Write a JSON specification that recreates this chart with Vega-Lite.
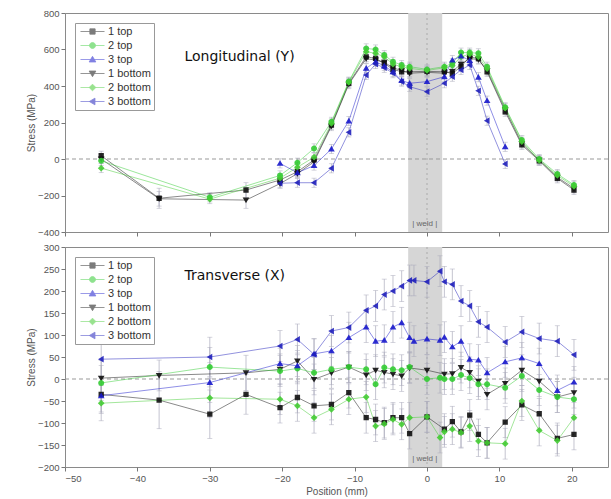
{
"$schema": "https://vega.github.io/schema/vega-lite/v6.json",
"padding": {"left": 25, "top": 7, "right": 1, "bottom": 0},
"config": {
  "font": "Liberation Sans",
  "view": {"stroke": "#8a8a8a", "strokeWidth": 1},
  "axis": {"labelColor": "#555", "labelFontSize": 9.5, "titleColor": "#555", "titleFontSize": 10, "titleFontWeight": "normal", "tickColor": "#777", "domain": false, "grid": false, "tickSize": 4, "labelPadding": 2, "labelOverlap": false, "labelBound": false},
  "axisY": {"minExtent": 26, "maxExtent": 26, "titlePadding": 3},
  "legend": {"labelFontSize": 11, "labelColor": "#333", "symbolSize": 50, "rowPadding": 2, "padding": 3, "symbolOffset": 9, "labelOffset": 10, "strokeColor": "#999", "fillColor": "white", "orient": "top-left", "offset": 10, "symbolStrokeWidth": 0.8}
},
"datasets": {
"top": [
{"s":"1 top","x":-45,"v":18,"e":25},{"s":"1 top","x":-37,"v":-215,"e":55},{"s":"1 top","x":-25,"v":-170,"e":40},{"s":"1 top","x":-20.3,"v":-115,"e":25},{"s":"1 top","x":-17.9,"v":-70,"e":25},{"s":"1 top","x":-15.6,"v":-5,"e":25},{"s":"1 top","x":-13.2,"v":186,"e":25},{"s":"1 top","x":-10.8,"v":415,"e":25},{"s":"1 top","x":-8.4,"v":560,"e":25},{"s":"1 top","x":-7.1,"v":551,"e":25},{"s":"1 top","x":-5.9,"v":524,"e":25},{"s":"1 top","x":-4.7,"v":491,"e":25},{"s":"1 top","x":-3.5,"v":478,"e":25},{"s":"1 top","x":-2.4,"v":478,"e":25},{"s":"1 top","x":0,"v":480,"e":25},{"s":"1 top","x":2.4,"v":478,"e":25},{"s":"1 top","x":3.5,"v":469,"e":25},{"s":"1 top","x":4.7,"v":506,"e":25},{"s":"1 top","x":5.9,"v":560,"e":25},{"s":"1 top","x":7.1,"v":550,"e":25},{"s":"1 top","x":8.3,"v":478,"e":25},{"s":"1 top","x":10.8,"v":259,"e":25},{"s":"1 top","x":13.1,"v":77,"e":25},{"s":"1 top","x":15.5,"v":-10,"e":25},{"s":"1 top","x":18,"v":-106,"e":25},{"s":"1 top","x":20.3,"v":-170,"e":25},
{"s":"1 bottom","x":-45,"v":0,"e":25},{"s":"1 bottom","x":-37,"v":-218,"e":40},{"s":"1 bottom","x":-25,"v":-225,"e":45},{"s":"1 bottom","x":-20.3,"v":-135,"e":25},{"s":"1 bottom","x":-17.9,"v":-80,"e":25},{"s":"1 bottom","x":-15.6,"v":-15,"e":25},{"s":"1 bottom","x":-13.2,"v":180,"e":25},{"s":"1 bottom","x":-10.8,"v":410,"e":25},{"s":"1 bottom","x":-8.4,"v":550,"e":25},{"s":"1 bottom","x":-7.1,"v":542,"e":25},{"s":"1 bottom","x":-5.9,"v":530,"e":25},{"s":"1 bottom","x":-4.7,"v":500,"e":25},{"s":"1 bottom","x":-3.5,"v":485,"e":25},{"s":"1 bottom","x":-2.4,"v":470,"e":25},{"s":"1 bottom","x":0,"v":475,"e":25},{"s":"1 bottom","x":2.4,"v":470,"e":25},{"s":"1 bottom","x":3.5,"v":480,"e":25},{"s":"1 bottom","x":4.7,"v":520,"e":25},{"s":"1 bottom","x":5.9,"v":550,"e":25},{"s":"1 bottom","x":7.1,"v":545,"e":25},{"s":"1 bottom","x":8.3,"v":485,"e":25},{"s":"1 bottom","x":10.8,"v":270,"e":25},{"s":"1 bottom","x":13.1,"v":85,"e":25},{"s":"1 bottom","x":15.5,"v":-5,"e":25},{"s":"1 bottom","x":18,"v":-100,"e":25},{"s":"1 bottom","x":20.3,"v":-161,"e":25},
{"s":"2 top","x":-45,"v":-10,"e":25},{"s":"2 top","x":-30,"v":-210,"e":25},{"s":"2 top","x":-20.3,"v":-90,"e":25},{"s":"2 top","x":-17.9,"v":-20,"e":25},{"s":"2 top","x":-15.6,"v":58,"e":25},{"s":"2 top","x":-13.2,"v":204,"e":25},{"s":"2 top","x":-10.8,"v":424,"e":25},{"s":"2 top","x":-8.4,"v":606,"e":25},{"s":"2 top","x":-7.1,"v":600,"e":25},{"s":"2 top","x":-5.9,"v":570,"e":25},{"s":"2 top","x":-4.7,"v":533,"e":25},{"s":"2 top","x":-3.5,"v":515,"e":25},{"s":"2 top","x":-2.4,"v":506,"e":25},{"s":"2 top","x":0,"v":491,"e":25},{"s":"2 top","x":2.4,"v":506,"e":25},{"s":"2 top","x":3.5,"v":524,"e":25},{"s":"2 top","x":4.7,"v":583,"e":25},{"s":"2 top","x":5.9,"v":583,"e":25},{"s":"2 top","x":7.1,"v":579,"e":25},{"s":"2 top","x":8.3,"v":506,"e":25},{"s":"2 top","x":10.8,"v":283,"e":25},{"s":"2 top","x":13.1,"v":104,"e":25},{"s":"2 top","x":15.5,"v":0,"e":25},{"s":"2 top","x":18,"v":-82,"e":25},{"s":"2 top","x":20.3,"v":-142,"e":25},
{"s":"2 bottom","x":-45,"v":-50,"e":25},{"s":"2 bottom","x":-30,"v":-220,"e":25},{"s":"2 bottom","x":-20.3,"v":-105,"e":25},{"s":"2 bottom","x":-17.9,"v":-45,"e":25},{"s":"2 bottom","x":-15.6,"v":10,"e":25},{"s":"2 bottom","x":-13.2,"v":195,"e":25},{"s":"2 bottom","x":-10.8,"v":420,"e":25},{"s":"2 bottom","x":-8.4,"v":588,"e":25},{"s":"2 bottom","x":-7.1,"v":579,"e":25},{"s":"2 bottom","x":-5.9,"v":560,"e":25},{"s":"2 bottom","x":-4.7,"v":520,"e":25},{"s":"2 bottom","x":-3.5,"v":505,"e":25},{"s":"2 bottom","x":-2.4,"v":497,"e":25},{"s":"2 bottom","x":0,"v":485,"e":25},{"s":"2 bottom","x":2.4,"v":500,"e":25},{"s":"2 bottom","x":3.5,"v":511,"e":25},{"s":"2 bottom","x":4.7,"v":560,"e":25},{"s":"2 bottom","x":5.9,"v":575,"e":25},{"s":"2 bottom","x":7.1,"v":560,"e":25},{"s":"2 bottom","x":8.3,"v":495,"e":25},{"s":"2 bottom","x":10.8,"v":278,"e":25},{"s":"2 bottom","x":13.1,"v":95,"e":25},{"s":"2 bottom","x":15.5,"v":-8,"e":25},{"s":"2 bottom","x":18,"v":-90,"e":25},{"s":"2 bottom","x":20.3,"v":-150,"e":25},
{"s":"3 top","x":-20.3,"v":-24,"e":25},{"s":"3 top","x":-17.9,"v":-75,"e":25},{"s":"3 top","x":-15.6,"v":-36,"e":25},{"s":"3 top","x":-13.2,"v":55,"e":25},{"s":"3 top","x":-10.8,"v":208,"e":25},{"s":"3 top","x":-8.4,"v":497,"e":25},{"s":"3 top","x":-7.1,"v":533,"e":25},{"s":"3 top","x":-5.9,"v":510,"e":25},{"s":"3 top","x":-4.7,"v":478,"e":25},{"s":"3 top","x":-3.5,"v":430,"e":25},{"s":"3 top","x":-2.4,"v":415,"e":25},{"s":"3 top","x":0,"v":424,"e":25},{"s":"3 top","x":2.4,"v":451,"e":25},{"s":"3 top","x":3.5,"v":542,"e":25},{"s":"3 top","x":4.7,"v":564,"e":25},{"s":"3 top","x":5.9,"v":540,"e":25},{"s":"3 top","x":7.1,"v":448,"e":25},{"s":"3 top","x":8.3,"v":320,"e":25},{"s":"3 top","x":10.8,"v":67,"e":25},
{"s":"3 bottom","x":-20.3,"v":-133,"e":25},{"s":"3 bottom","x":-17.9,"v":-130,"e":25},{"s":"3 bottom","x":-15.6,"v":-130,"e":25},{"s":"3 bottom","x":-13.2,"v":-51,"e":25},{"s":"3 bottom","x":-10.8,"v":146,"e":25},{"s":"3 bottom","x":-8.4,"v":460,"e":25},{"s":"3 bottom","x":-7.1,"v":520,"e":25},{"s":"3 bottom","x":-5.9,"v":500,"e":25},{"s":"3 bottom","x":-4.7,"v":470,"e":25},{"s":"3 bottom","x":-3.5,"v":424,"e":25},{"s":"3 bottom","x":-2.4,"v":396,"e":25},{"s":"3 bottom","x":0,"v":369,"e":25},{"s":"3 bottom","x":2.4,"v":415,"e":25},{"s":"3 bottom","x":3.5,"v":451,"e":25},{"s":"3 bottom","x":4.7,"v":488,"e":25},{"s":"3 bottom","x":5.9,"v":515,"e":25},{"s":"3 bottom","x":7.1,"v":374,"e":25},{"s":"3 bottom","x":8.3,"v":210,"e":25},{"s":"3 bottom","x":10.8,"v":-27,"e":25}
],
"bot": [
{"s":"1 top","x":-45,"v":-35,"e":40},{"s":"1 top","x":-37,"v":-48,"e":65},{"s":"1 top","x":-30,"v":-80,"e":55},{"s":"1 top","x":-25,"v":-35,"e":45},{"s":"1 top","x":-20.3,"v":-65,"e":35},{"s":"1 top","x":-17.9,"v":-42,"e":35},{"s":"1 top","x":-15.6,"v":-61,"e":35},{"s":"1 top","x":-13.2,"v":-58,"e":35},{"s":"1 top","x":-10.8,"v":-31,"e":35},{"s":"1 top","x":-8.4,"v":-88,"e":35},{"s":"1 top","x":-7.1,"v":-92,"e":35},{"s":"1 top","x":-5.9,"v":-99,"e":35},{"s":"1 top","x":-4.7,"v":-88,"e":35},{"s":"1 top","x":-3.5,"v":-88,"e":35},{"s":"1 top","x":-2.4,"v":-124,"e":35},{"s":"1 top","x":0,"v":-86,"e":35},{"s":"1 top","x":2.4,"v":-114,"e":35},{"s":"1 top","x":3.5,"v":-97,"e":35},{"s":"1 top","x":4.7,"v":-120,"e":35},{"s":"1 top","x":5.9,"v":-82,"e":35},{"s":"1 top","x":7.1,"v":-126,"e":35},{"s":"1 top","x":8.3,"v":-145,"e":35},{"s":"1 top","x":10.8,"v":-98,"e":35},{"s":"1 top","x":13.1,"v":-59,"e":35},{"s":"1 top","x":15.5,"v":-79,"e":35},{"s":"1 top","x":18,"v":-135,"e":35},{"s":"1 top","x":20.3,"v":-126,"e":35},
{"s":"1 bottom","x":-45,"v":2,"e":40},{"s":"1 bottom","x":-37,"v":8,"e":35},{"s":"1 bottom","x":-25,"v":14,"e":40},{"s":"1 bottom","x":-20.3,"v":22,"e":35},{"s":"1 bottom","x":-17.9,"v":41,"e":35},{"s":"1 bottom","x":-15.6,"v":-1,"e":35},{"s":"1 bottom","x":-13.2,"v":14,"e":35},{"s":"1 bottom","x":-10.8,"v":27,"e":35},{"s":"1 bottom","x":-8.4,"v":9,"e":35},{"s":"1 bottom","x":-7.1,"v":20,"e":35},{"s":"1 bottom","x":-5.9,"v":15,"e":35},{"s":"1 bottom","x":-4.7,"v":11,"e":35},{"s":"1 bottom","x":-3.5,"v":7,"e":35},{"s":"1 bottom","x":-2.4,"v":25,"e":35},{"s":"1 bottom","x":0,"v":20,"e":35},{"s":"1 bottom","x":2.4,"v":11,"e":35},{"s":"1 bottom","x":3.5,"v":12,"e":35},{"s":"1 bottom","x":4.7,"v":26,"e":35},{"s":"1 bottom","x":5.9,"v":15,"e":35},{"s":"1 bottom","x":7.1,"v":-5,"e":35},{"s":"1 bottom","x":8.3,"v":-35,"e":35},{"s":"1 bottom","x":10.8,"v":-10,"e":35},{"s":"1 bottom","x":13.1,"v":20,"e":35},{"s":"1 bottom","x":15.5,"v":-5,"e":35},{"s":"1 bottom","x":18,"v":-41,"e":35},{"s":"1 bottom","x":20.3,"v":-31,"e":35},
{"s":"2 top","x":-45,"v":-9,"e":40},{"s":"2 top","x":-30,"v":27,"e":45},{"s":"2 top","x":-20.3,"v":18,"e":35},{"s":"2 top","x":-17.9,"v":24,"e":35},{"s":"2 top","x":-15.6,"v":14,"e":35},{"s":"2 top","x":-13.2,"v":22,"e":35},{"s":"2 top","x":-10.8,"v":27,"e":35},{"s":"2 top","x":-8.4,"v":22,"e":35},{"s":"2 top","x":-7.1,"v":-12,"e":35},{"s":"2 top","x":-5.9,"v":26,"e":35},{"s":"2 top","x":-4.7,"v":22,"e":35},{"s":"2 top","x":-3.5,"v":20,"e":35},{"s":"2 top","x":-2.4,"v":27,"e":35},{"s":"2 top","x":0,"v":0,"e":35},{"s":"2 top","x":1.8,"v":3,"e":35},{"s":"2 top","x":2.4,"v":0,"e":35},{"s":"2 top","x":3.5,"v":0,"e":35},{"s":"2 top","x":4.7,"v":9,"e":35},{"s":"2 top","x":5.9,"v":2,"e":35},{"s":"2 top","x":7.1,"v":-12,"e":35},{"s":"2 top","x":8.3,"v":-12,"e":35},{"s":"2 top","x":10.8,"v":-20,"e":35},{"s":"2 top","x":13.1,"v":7,"e":35},{"s":"2 top","x":15.5,"v":-25,"e":35},{"s":"2 top","x":18,"v":-41,"e":35},{"s":"2 top","x":20.3,"v":-46,"e":35},
{"s":"2 bottom","x":-45,"v":-55,"e":40},{"s":"2 bottom","x":-30,"v":-43,"e":45},{"s":"2 bottom","x":-20.3,"v":-46,"e":35},{"s":"2 bottom","x":-17.9,"v":-61,"e":35},{"s":"2 bottom","x":-15.6,"v":-88,"e":35},{"s":"2 bottom","x":-13.2,"v":-69,"e":35},{"s":"2 bottom","x":-10.8,"v":-46,"e":35},{"s":"2 bottom","x":-8.4,"v":-41,"e":35},{"s":"2 bottom","x":-7.1,"v":-107,"e":35},{"s":"2 bottom","x":-5.9,"v":-102,"e":35},{"s":"2 bottom","x":-4.7,"v":-92,"e":35},{"s":"2 bottom","x":-3.5,"v":-103,"e":35},{"s":"2 bottom","x":-2.4,"v":-88,"e":35},{"s":"2 bottom","x":0,"v":-86,"e":35},{"s":"2 bottom","x":1.8,"v":-133,"e":35},{"s":"2 bottom","x":2.4,"v":-120,"e":35},{"s":"2 bottom","x":3.5,"v":-114,"e":35},{"s":"2 bottom","x":4.7,"v":-122,"e":35},{"s":"2 bottom","x":5.9,"v":-107,"e":35},{"s":"2 bottom","x":7.1,"v":-141,"e":35},{"s":"2 bottom","x":8.3,"v":-145,"e":35},{"s":"2 bottom","x":10.8,"v":-147,"e":35},{"s":"2 bottom","x":13.1,"v":-50,"e":35},{"s":"2 bottom","x":15.5,"v":-117,"e":35},{"s":"2 bottom","x":18,"v":-140,"e":35},{"s":"2 bottom","x":20.3,"v":-88,"e":35},
{"s":"3 top","x":-45,"v":-38,"e":40},{"s":"3 top","x":-30,"v":-8,"e":45},{"s":"3 top","x":-20.3,"v":35,"e":35},{"s":"3 top","x":-17.9,"v":30,"e":35},{"s":"3 top","x":-15.6,"v":57,"e":35},{"s":"3 top","x":-13.2,"v":64,"e":35},{"s":"3 top","x":-10.8,"v":94,"e":35},{"s":"3 top","x":-8.4,"v":118,"e":35},{"s":"3 top","x":-7.1,"v":86,"e":35},{"s":"3 top","x":-5.9,"v":88,"e":35},{"s":"3 top","x":-4.7,"v":118,"e":35},{"s":"3 top","x":-3.5,"v":128,"e":35},{"s":"3 top","x":-2.4,"v":94,"e":35},{"s":"3 top","x":-1.8,"v":86,"e":35},{"s":"3 top","x":0,"v":91,"e":35},{"s":"3 top","x":1.8,"v":88,"e":35},{"s":"3 top","x":2.4,"v":95,"e":35},{"s":"3 top","x":3.5,"v":73,"e":35},{"s":"3 top","x":4.7,"v":86,"e":35},{"s":"3 top","x":5.9,"v":45,"e":35},{"s":"3 top","x":7.1,"v":43,"e":35},{"s":"3 top","x":8.3,"v":14,"e":35},{"s":"3 top","x":10.8,"v":39,"e":35},{"s":"3 top","x":13.1,"v":48,"e":35},{"s":"3 top","x":15.5,"v":35,"e":35},{"s":"3 top","x":18,"v":-26,"e":35},{"s":"3 top","x":20.3,"v":-7,"e":35},
{"s":"3 bottom","x":-45,"v":45,"e":40},{"s":"3 bottom","x":-30,"v":50,"e":45},{"s":"3 bottom","x":-20.3,"v":75,"e":35},{"s":"3 bottom","x":-17.9,"v":90,"e":35},{"s":"3 bottom","x":-15.6,"v":56,"e":35},{"s":"3 bottom","x":-13.2,"v":109,"e":35},{"s":"3 bottom","x":-10.8,"v":117,"e":35},{"s":"3 bottom","x":-8.4,"v":156,"e":35},{"s":"3 bottom","x":-7.1,"v":166,"e":35},{"s":"3 bottom","x":-5.9,"v":192,"e":35},{"s":"3 bottom","x":-4.7,"v":200,"e":35},{"s":"3 bottom","x":-3.5,"v":211,"e":35},{"s":"3 bottom","x":-2.4,"v":224,"e":35},{"s":"3 bottom","x":-1.8,"v":224,"e":35},{"s":"3 bottom","x":0,"v":221,"e":35},{"s":"3 bottom","x":1.8,"v":245,"e":35},{"s":"3 bottom","x":2.4,"v":221,"e":35},{"s":"3 bottom","x":3.5,"v":215,"e":35},{"s":"3 bottom","x":4.7,"v":177,"e":35},{"s":"3 bottom","x":5.9,"v":166,"e":35},{"s":"3 bottom","x":7.1,"v":130,"e":35},{"s":"3 bottom","x":8.3,"v":118,"e":35},{"s":"3 bottom","x":10.8,"v":84,"e":35},{"s":"3 bottom","x":13.1,"v":107,"e":35},{"s":"3 bottom","x":15.5,"v":92,"e":35},{"s":"3 bottom","x":18,"v":86,"e":35},{"s":"3 bottom","x":20.3,"v":55,"e":35}
],
"weld": [{"a": -2.6, "b": 2.1, "c": 0}],
"zero": [{"y": 0}],
"ttop": [{"x": -33.5, "y": 560, "t": "Longitudinal (Y)"}],
"wtop": [{"x": -0.3, "y": -355, "t": "|  weld  |"}],
"tbot": [{"x": -33.5, "y": 234, "t": "Transverse (X)"}],
"wbot": [{"x": -0.3, "y": -182, "t": "|  weld  |"}]
},
"spacing": 4,
"resolve": {"scale": {"color": "independent", "shape": "independent"}, "legend": {"color": "independent", "shape": "independent"}},
"vconcat": [
{
  "width": 543, "height": 219,
  "layer": [
    {"data": {"name": "weld"}, "mark": {"type": "rect", "color": "#d6d6d6"},
     "encoding": {"x": {"field": "a", "type": "quantitative", "scale": {"domain": [-50, 25], "nice": false}, "axis": {"labels": false, "title": null, "values": [-50,-40,-30,-20,-10,0,10,20]}}, "x2": {"field": "b"}}},
    {"data": {"name": "weld"}, "mark": {"type": "rule", "color": "#aaa", "strokeDash": [2, 3], "strokeWidth": 1},
     "encoding": {"x": {"field": "c", "type": "quantitative"}}},
    {"data": {"name": "zero"}, "mark": {"type": "rule", "color": "#999", "strokeDash": [4, 3], "strokeWidth": 1},
     "encoding": {"y": {"field": "y", "type": "quantitative", "title": "Stress (MPa)", "scale": {"domain": [-400, 800], "nice": false}, "axis": {"values": [-400,-200,0,200,400,600,800], "tickCount": 7, "labelOverlap": false}}}},
    {"data": {"name": "top"}, "mark": {"type": "errorbar", "ticks": true, "color": "#aab", "thickness": 0.7},
     "encoding": {"x": {"field": "x", "type": "quantitative"}, "y": {"field": "v", "type": "quantitative", "title": "Stress (MPa)"}, "yError": {"field": "e"}}},
    {"data": {"name": "top"}, "mark": {"type": "line", "strokeWidth": 0.9, "opacity": 0.55},
     "encoding": {"x": {"field": "x", "type": "quantitative"}, "y": {"field": "v", "type": "quantitative", "title": "Stress (MPa)"}, "order": {"field": "x", "type": "quantitative"},
       "color": {"field": "s", "type": "nominal", "title": null, "scale": {"domain": ["1 top","2 top","3 top","1 bottom","2 bottom","3 bottom"], "range": ["#111111","#33cc33","#1a1acc","#111111","#44cc33","#2020bb"]}}}},
    {"data": {"name": "top"}, "mark": {"type": "point", "filled": true, "size": 50, "opacity": 0.9},
     "encoding": {"x": {"field": "x", "type": "quantitative"},
       "y": {"field": "v", "type": "quantitative", "title": "Stress (MPa)"},
       "color": {"field": "s", "type": "nominal", "title": null, "scale": {"domain": ["1 top","2 top","3 top","1 bottom","2 bottom","3 bottom"], "range": ["#111111","#33cc33","#1a1acc","#111111","#44cc33","#2020bb"]}},
       "shape": {"field": "s", "type": "nominal", "title": null, "scale": {"domain": ["1 top","2 top","3 top","1 bottom","2 bottom","3 bottom"], "range": ["M-3.4,0H3.4M-0.75,-0.75H0.75V0.75H-0.75Z","M-3.4,0H3.4M-0.85,0A0.85,0.85 0 1,0 0.85,0A0.85,0.85 0 1,0 -0.85,0Z","M-3.4,0H3.4M0,-0.9L0.95,0.7H-0.95Z","M-3.4,0H3.4M0,0.9L0.95,-0.7H-0.95Z","M-3.4,0H3.4M0,-0.95L0.95,0L0,0.95L-0.95,0Z","M-3.4,0H3.4M-0.9,0L0.7,-0.95V0.95Z"]}}}},
    {"data": {"name": "ttop"}, "mark": {"type": "text", "align": "left", "baseline": "middle", "font": "DejaVu Sans", "fontSize": 14, "color": "#111"},
     "encoding": {"x": {"field": "x", "type": "quantitative"}, "y": {"field": "y", "type": "quantitative"}, "text": {"field": "t", "type": "nominal"}}},
    {"data": {"name": "wtop"}, "mark": {"type": "text", "align": "center", "baseline": "middle", "fontSize": 8, "color": "#666"},
     "encoding": {"x": {"field": "x", "type": "quantitative"}, "y": {"field": "y", "type": "quantitative"}, "text": {"field": "t", "type": "nominal"}}}
  ]
},
{
  "width": 543, "height": 220,
  "layer": [
    {"data": {"name": "weld"}, "mark": {"type": "rect", "color": "#d6d6d6"},
     "encoding": {"x": {"field": "a", "type": "quantitative", "title": "Position (mm)", "scale": {"domain": [-50, 25], "nice": false}, "axis": {"values": [-50,-40,-30,-20,-10,0,10,20], "titlePadding": 4}}, "x2": {"field": "b"}}},
    {"data": {"name": "weld"}, "mark": {"type": "rule", "color": "#aaa", "strokeDash": [2, 3], "strokeWidth": 1},
     "encoding": {"x": {"field": "c", "type": "quantitative", "title": "Position (mm)"}}},
    {"data": {"name": "zero"}, "mark": {"type": "rule", "color": "#999", "strokeDash": [4, 3], "strokeWidth": 1},
     "encoding": {"y": {"field": "y", "type": "quantitative", "title": "Stress (MPa)", "scale": {"domain": [-200, 300], "nice": false}, "axis": {"values": [-200,-150,-100,-50,0,50,100,150,200,250,300], "tickCount": 11, "labelOverlap": false}}}},
    {"data": {"name": "bot"}, "mark": {"type": "errorbar", "ticks": true, "color": "#aab", "thickness": 0.7},
     "encoding": {"x": {"field": "x", "type": "quantitative", "title": "Position (mm)"}, "y": {"field": "v", "type": "quantitative", "title": "Stress (MPa)"}, "yError": {"field": "e"}}},
    {"data": {"name": "bot"}, "mark": {"type": "line", "strokeWidth": 0.9, "opacity": 0.55},
     "encoding": {"x": {"field": "x", "type": "quantitative", "title": "Position (mm)"}, "y": {"field": "v", "type": "quantitative", "title": "Stress (MPa)"}, "order": {"field": "x", "type": "quantitative"},
       "color": {"field": "s", "type": "nominal", "title": null, "scale": {"domain": ["1 top","2 top","3 top","1 bottom","2 bottom","3 bottom"], "range": ["#111111","#33cc33","#1a1acc","#111111","#44cc33","#2020bb"]}}}},
    {"data": {"name": "bot"}, "mark": {"type": "point", "filled": true, "size": 50, "opacity": 0.9},
     "encoding": {"x": {"field": "x", "type": "quantitative", "title": "Position (mm)"},
       "y": {"field": "v", "type": "quantitative", "title": "Stress (MPa)"},
       "color": {"field": "s", "type": "nominal", "title": null, "scale": {"domain": ["1 top","2 top","3 top","1 bottom","2 bottom","3 bottom"], "range": ["#111111","#33cc33","#1a1acc","#111111","#44cc33","#2020bb"]}},
       "shape": {"field": "s", "type": "nominal", "title": null, "scale": {"domain": ["1 top","2 top","3 top","1 bottom","2 bottom","3 bottom"], "range": ["M-3.4,0H3.4M-0.75,-0.75H0.75V0.75H-0.75Z","M-3.4,0H3.4M-0.85,0A0.85,0.85 0 1,0 0.85,0A0.85,0.85 0 1,0 -0.85,0Z","M-3.4,0H3.4M0,-0.9L0.95,0.7H-0.95Z","M-3.4,0H3.4M0,0.9L0.95,-0.7H-0.95Z","M-3.4,0H3.4M0,-0.95L0.95,0L0,0.95L-0.95,0Z","M-3.4,0H3.4M-0.9,0L0.7,-0.95V0.95Z"]}}}},
    {"data": {"name": "tbot"}, "mark": {"type": "text", "align": "left", "baseline": "middle", "font": "DejaVu Sans", "fontSize": 14, "color": "#111"},
     "encoding": {"x": {"field": "x", "type": "quantitative", "title": "Position (mm)"}, "y": {"field": "y", "type": "quantitative", "title": "Stress (MPa)"}, "text": {"field": "t", "type": "nominal"}}},
    {"data": {"name": "wbot"}, "mark": {"type": "text", "align": "center", "baseline": "middle", "fontSize": 8, "color": "#666"},
     "encoding": {"x": {"field": "x", "type": "quantitative", "title": "Position (mm)"}, "y": {"field": "y", "type": "quantitative", "title": "Stress (MPa)"}, "text": {"field": "t", "type": "nominal"}}}
  ]
}
]
}
